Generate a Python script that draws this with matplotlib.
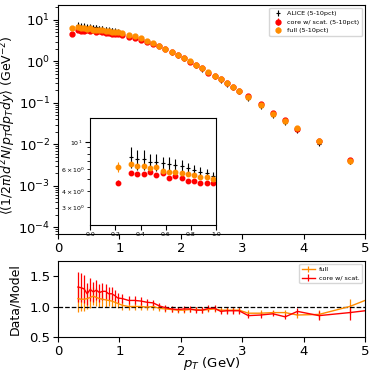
import numpy as np
import matplotlib
matplotlib.use("Agg")
import matplotlib.pyplot as plt

# pT bin centres of the ALICE points (GeV)
pt_alice = [0.325, 0.375, 0.425, 0.475, 0.525, 0.575, 0.625, 0.675, 0.725, 0.775,
            0.825, 0.875, 0.925, 0.975,
            1.05, 1.15, 1.25, 1.35, 1.45, 1.55, 1.65, 1.75, 1.85, 1.95,
            2.05, 2.15, 2.25, 2.35, 2.45, 2.55, 2.65, 2.75, 2.85, 2.95,
            3.1, 3.3, 3.5, 3.7, 3.9, 4.25, 4.75]
alice = [7.58, 7.22, 7.22, 6.91, 6.91, 6.71, 6.62, 6.50, 6.38, 6.12,
         5.93, 5.75, 5.64, 5.34,
         4.86, 4.33, 4.02, 3.61, 3.13, 2.73, 2.32, 1.94, 1.62, 1.36,
         1.15, 0.95, 0.789, 0.637, 0.516, 0.431, 0.345, 0.276, 0.225, 0.180,
         0.124, 0.0812, 0.0497, 0.0329, 0.0215, 0.0103, 0.0038]
alice_relerr = [0.19, 0.18, 0.18, 0.15, 0.15, 0.13, 0.13, 0.12, 0.11, 0.10,
                0.09, 0.09, 0.08, 0.07,
                0.07, 0.06, 0.06, 0.06, 0.05, 0.05, 0.05, 0.05, 0.05, 0.05,
                0.05, 0.05, 0.05, 0.05, 0.05, 0.05, 0.05, 0.05, 0.05, 0.05,
                0.05, 0.05, 0.05, 0.05, 0.06, 0.08, 0.13]

# model points (one extra low-pT point)
pt_model = [0.225] + pt_alice
full = [6.30,
        6.62, 6.42, 6.42, 6.12, 6.30, 5.82, 5.75, 5.75, 5.58, 5.51,
        5.40, 5.24, 5.18, 5.02,
        4.76, 4.33, 4.02, 3.61, 3.16, 2.73, 2.39, 2.02, 1.71, 1.45,
        1.22, 1.00, 0.83, 0.678, 0.543, 0.449, 0.367, 0.294, 0.239, 0.191,
        0.139, 0.0912, 0.0552, 0.0366, 0.0250, 0.0118, 0.00388]
core = [4.69,
        5.64, 5.51, 5.51, 5.75, 5.40, 5.58, 5.08, 5.30, 5.14, 4.86,
        4.86, 4.69, 4.69, 4.63,
        4.30, 3.94, 3.65, 3.31, 2.93, 2.58, 2.30, 1.98, 1.69, 1.43,
        1.20, 0.99, 0.839, 0.678, 0.532, 0.444, 0.375, 0.297, 0.242, 0.194,
        0.146, 0.0944, 0.0565, 0.0396, 0.0234, 0.0121, 0.00422]
full_relerr = [0.10] + [0.02] * 41
core_relerr = [0.05] + [0.02] * 41

# Data/Model ratio (last point lies just beyond the plotted range)
pt_ratio = pt_alice + [5.25]
ratio_full = [1.13, 1.12, 1.12, 1.13, 1.15, 1.17, 1.15, 1.13, 1.12, 1.11,
              1.10, 1.09, 1.07, 1.05,
              1.02, 1.00, 1.00, 1.00, 0.99, 1.00, 0.97, 0.96, 0.95, 0.94,
              0.94, 0.95, 0.95, 0.94, 0.95, 0.96, 0.94, 0.94, 0.94, 0.94,
              0.89, 0.89, 0.90, 0.90, 0.86, 0.87, 1.00, 1.20]
ratio_core = [1.32, 1.31, 1.29, 1.21, 1.28, 1.24, 1.27, 1.23, 1.25, 1.25,
              1.21, 1.21, 1.18, 1.14,
              1.13, 1.10, 1.10, 1.09, 1.07, 1.06, 1.01, 0.98, 0.96, 0.95,
              0.96, 0.96, 0.94, 0.94, 0.97, 0.97, 0.92, 0.93, 0.93, 0.93,
              0.85, 0.86, 0.88, 0.83, 0.92, 0.85, 0.90, 0.96]
ratio_relerr = alice_relerr + [0.15]

c_full = "darkorange"
c_core = "red"

fig = plt.figure(figsize=(3.74, 3.76), dpi=100)
ax = fig.add_axes([0.155, 0.378, 0.821, 0.609])
axr = fig.add_axes([0.155, 0.104, 0.821, 0.202])
axin = fig.add_axes([0.241, 0.402, 0.337, 0.284])

alice_a = np.array(alice)
full_a = np.array(full)
core_a = np.array(core)


def draw_spectra(a, ms):
    a.errorbar(pt_alice, alice_a, yerr=alice_a * np.array(alice_relerr), fmt="+",
               color="black", ms=ms, mew=0.8, elinewidth=0.8, label="ALICE (5-10pct)")
    a.errorbar(pt_model, core_a, yerr=core_a * np.array(core_relerr), fmt="o",
               color=c_core, ms=ms, elinewidth=0.8, label="core w/ scat. (5-10pct)")
    a.errorbar(pt_model, full_a, yerr=full_a * np.array(full_relerr), fmt="o",
               color=c_full, ms=ms, elinewidth=0.8, label="full (5-10pct)")


draw_spectra(ax, 3.5)
ax.set_yscale("log")
ax.set_xlim(0, 5)
ax.set_ylim(7e-5, 23)
ax.tick_params(labelsize=9.5, pad=2)
ax.set_ylabel(r"$\langle(1/2\pi)d^2N/p_T dp_T dy\rangle$ (GeV$^{-2}$)", fontsize=9)
ax.yaxis.set_label_coords(-0.13, 0.476)
ax.legend(loc="upper right", fontsize=4.6, handletextpad=0.4, borderpad=0.4)

draw_spectra(axin, 3.2)
axin.set_yscale("log")
axin.set_xlim(0, 1)
axin.set_ylim(2.15, 15.5)
axin.tick_params(labelsize=4.5, which="both", pad=2)

ratio_full_a = np.array(ratio_full)
ratio_core_a = np.array(ratio_core)
axr.errorbar(pt_ratio, ratio_full_a, yerr=ratio_full_a * np.array(ratio_relerr),
             color=c_full, lw=1.0, elinewidth=0.9, label="full")
axr.errorbar(pt_ratio, ratio_core_a, yerr=ratio_core_a * np.array(ratio_relerr),
             color=c_core, lw=1.0, elinewidth=0.9, label="core w/ scat.")
axr.axhline(1.0, color="black", ls="--", lw=0.9)
axr.set_xlim(0, 5)
axr.set_ylim(0.5, 1.75)
axr.set_yticks([0.5, 1.0, 1.5])
axr.tick_params(labelsize=9.5, pad=2)
axr.set_xlabel(r"$p_T$ (GeV)", fontsize=9.5)
axr.xaxis.set_label_coords(0.5, -0.24)
axr.set_ylabel("Data/Model", fontsize=9)
axr.yaxis.set_label_coords(-0.118, 0.5)
axr.legend(loc="upper right", fontsize=4.6, handletextpad=0.6, borderpad=0.4)

fig.savefig("out.png", dpi=100)
